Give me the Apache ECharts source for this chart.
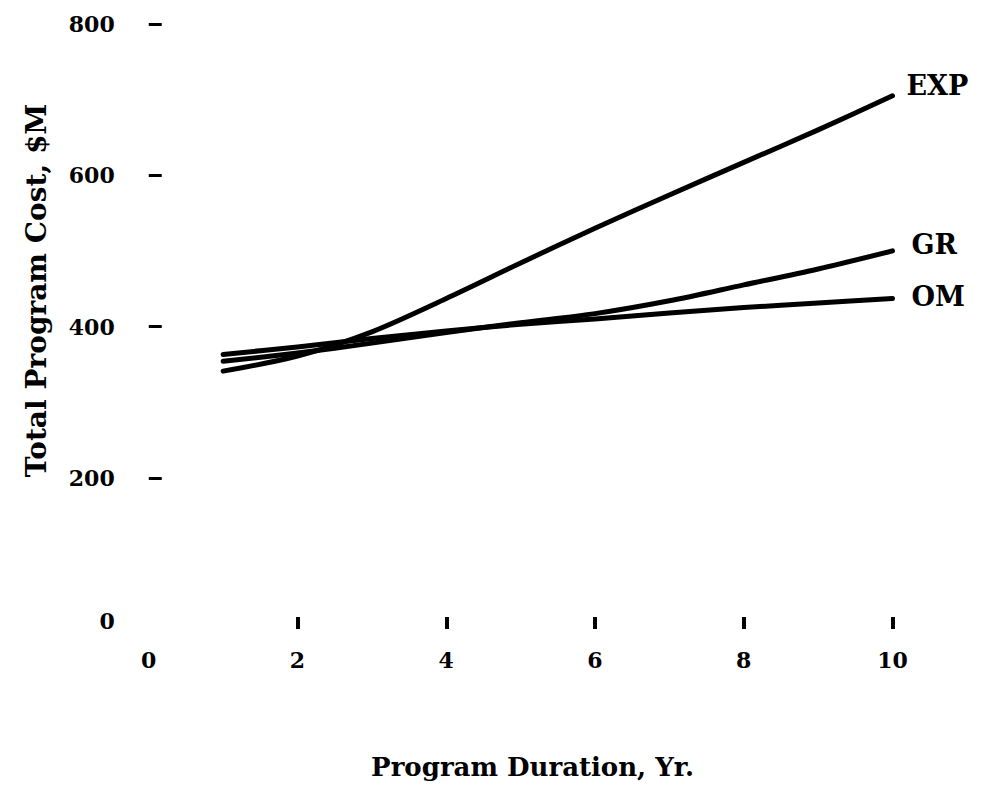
<!DOCTYPE html>
<html>
<head>
<meta charset="utf-8">
<script src="https://cdn.jsdelivr.net/npm/echarts@6.0.0/dist/echarts.min.js"></script>
<style>html,body{margin:0;padding:0;background:#fff}#chart{width:982px;height:785px}</style>
</head>
<body>
<div id="chart"></div>
<script>
var years = [1, 2, 3, 4, 5, 6, 7, 8, 9, 10];
var expCost = [341, 361, 393, 437, 484, 530, 574, 617, 660, 705];
var grCost = [354, 365, 378, 392, 405, 417, 434, 455, 476, 500];
var omCost = [363, 373, 384, 394, 403, 410, 418, 425, 431, 437];
var xTicks = [2, 4, 6, 8, 10];
var yTicks = [200, 400, 600, 800];
var seriesNames = ['EXP', 'GR', 'OM'];

function pairs(vals) { return years.map(function (y, i) { return [y, vals[i]]; }); }

var FONT = 'DejaVu Serif';
var chart = echarts.init(document.getElementById('chart'), null, { renderer: 'svg' });
var labelOffsets = [[0, -10], [5, -6], [5, -2]];
var data = [expCost, grCost, omCost];
chart.setOption({
  animation: false,
  backgroundColor: '#fff',
  grid: { left: 148.75, right: 89.5, top: 24, bottom: 155, containLabel: false },
  xAxis: {
    type: 'value', min: 0, max: 10, interval: 2,
    axisLine: { show: false },
    splitLine: { show: false },
    axisTick: { show: true, inside: true, length: 12, lineStyle: { color: '#000', width: 4 }, customValues: xTicks },
    axisLabel: { margin: 20, color: '#000', fontFamily: FONT, fontWeight: 'bold', fontSize: 22 },
    name: 'Program Duration, Yr.', nameLocation: 'middle', nameGap: 125,
    nameTextStyle: { color: '#000', fontFamily: FONT, fontWeight: 'bold', fontSize: 26, padding: [0, 0, 0, 24] }
  },
  yAxis: {
    type: 'value', min: 0, max: 800, interval: 200,
    axisLine: { show: false },
    splitLine: { show: false },
    axisTick: { show: true, inside: true, length: 13, lineStyle: { color: '#000', width: 3 }, customValues: yTicks },
    axisLabel: {
      margin: 34, color: '#000', fontFamily: FONT, fontWeight: 'bold', fontSize: 22,
      formatter: function (v) { return v === 0 ? '{z|0}' : String(v); },
      rich: { z: { fontFamily: FONT, fontWeight: 'bold', fontSize: 22, color: '#000', padding: [0, 0, 16, 0] } }
    },
    name: 'Total Program Cost, $M', nameLocation: 'middle', nameGap: 98,
    nameTextStyle: { color: '#000', fontFamily: FONT, fontWeight: 'bold', fontSize: 28, padding: [0, 0, 0, 72] }
  },
  series: seriesNames.map(function (n, i) {
    return {
      name: n, type: 'line', smooth: 0.3, showSymbol: false, symbol: 'none',
      data: pairs(data[i]),
      lineStyle: { color: '#000', width: 5, cap: 'round', join: 'round' },
      endLabel: { show: true, formatter: '{a}', distance: 14, offset: labelOffsets[i], color: '#000', fontFamily: FONT, fontWeight: 'bold', fontSize: 27 }
    };
  })
});
</script>
</body>
</html>
